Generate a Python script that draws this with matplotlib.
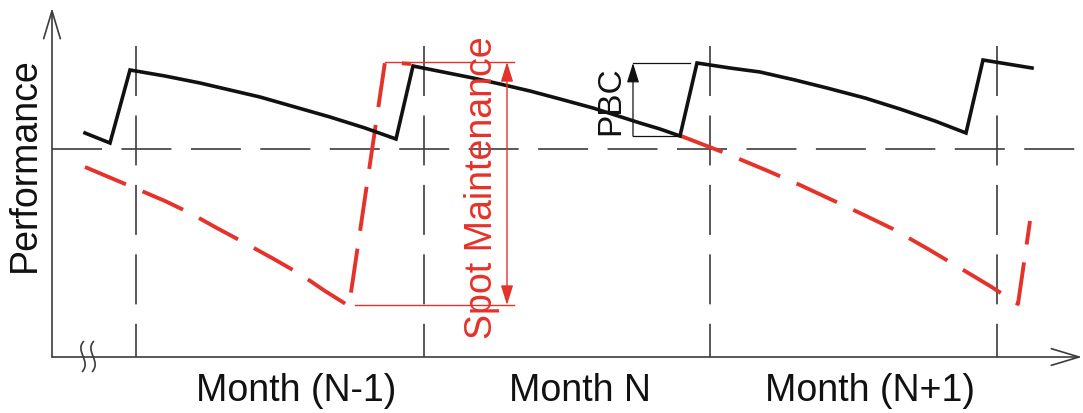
import numpy as np
import matplotlib
matplotlib.use("Agg")
import matplotlib.pyplot as plt
from matplotlib.path import Path
from matplotlib.patches import PathPatch

plt.rcParams['font.family'] = ['Liberation Sans', 'DejaVu Sans']
plt.rcParams['lines.scale_dashes'] = False

# schematic drawn in picture units (x to the right, y downwards)
black_x = [85, 110, 130, 165, 200, 230, 260, 295, 330, 365, 396,
           413, 443, 473, 500, 530, 560, 593, 615, 640, 660, 680,
           697, 730, 760, 795, 827, 865, 900, 935, 966, 983, 1032]
black_y = [134, 144, 71, 77, 84, 91, 98, 108, 118, 129, 140,
           67, 73, 79, 85, 92, 100, 109, 116, 124, 130, 137,
           64, 69, 73, 81, 89, 99, 110, 122, 134, 61, 69]

red_a_x = [85, 111, 137, 165, 190, 215, 243, 272, 300, 325, 349, 385, 411]
red_a_y = [168, 179, 190, 202, 214, 228, 243, 259, 275, 292, 307, 63, 65]
red_b_x = [681, 725, 768, 800, 830, 862, 893, 928, 960, 990, 1018, 1030]
red_b_y = [137, 154, 172, 186, 200, 215, 230, 250, 269, 287, 305, 222]

month_bounds = [136, 424, 710, 997]
threshold_y = 150
month_labels = ["Month (N-1)", "Month N", "Month (N+1)"]
month_label_x = [296, 580, 870]

spot_top, spot_bottom = 63, 306
pbc_top, pbc_bottom = 64, 137

RED = '#e5322a'
BLACK = '#111111'
GREY = '#3c3c3c'

fig = plt.figure(figsize=(10.83, 4.14), dpi=100)
ax = fig.add_axes([0, 0, 1, 1])
ax.set_xlim(0, 1083)
ax.set_ylim(414, 0)
ax.axis('off')

# guide lines
for xb in month_bounds:
    ax.plot([xb, xb], [47, 358], color=GREY, lw=1.2, dashes=(36, 14))
ax.plot([52, 1083], [threshold_y, threshold_y], color=GREY, lw=1.2, dashes=(36, 14))

# axes with open arrows
arrow_kw = dict(arrowstyle='->, head_length=1.0, head_width=0.3',
                color=GREY, lw=1.2, mutation_scale=20, shrinkA=0, shrinkB=0)
ax.annotate('', xy=(52, 9), xytext=(52, 358), arrowprops=arrow_kw)
ax.annotate('', xy=(1082, 358), xytext=(52, 358), arrowprops=arrow_kw)

# axis break
for dx in [0, 10]:
    verts = [(84 + dx, 342), (74 + dx, 352), (92 + dx, 362), (82 + dx, 373)]
    codes = [Path.MOVETO, Path.CURVE4, Path.CURVE4, Path.CURVE4]
    ax.add_patch(PathPatch(Path(verts, codes), fill=False, ec=GREY, lw=1.2))

# performance curves
ax.plot(red_a_x, red_a_y, color=RED, lw=2.8, dashes=(32, 13), solid_joinstyle='miter')
ax.plot(red_b_x, red_b_y, color=RED, lw=2.8, dashes=(32, 13), solid_joinstyle='miter')
ax.plot(black_x, black_y, color=BLACK, lw=2.6, solid_joinstyle='miter')

# spot maintenance dimension
ax.plot([385, 514], [spot_top, spot_top], color=RED, lw=1.0)
ax.plot([355, 514], [spot_bottom, spot_bottom], color=RED, lw=1.0)
ax.annotate('', xy=(507, spot_top), xytext=(507, spot_bottom),
            arrowprops=dict(arrowstyle='<|-|>, head_length=0.8, head_width=0.25',
                            color=RED, lw=1.0, mutation_scale=15, shrinkA=0, shrinkB=0))
ax.text(482, 188, "Spot Maintenance", rotation=90, color=RED, fontsize=27,
        ha='center', va='center')

# PBC dimension
ax.plot([633, 690], [pbc_top, pbc_top], color=BLACK, lw=0.9)
ax.plot([633, 680], [pbc_bottom, pbc_bottom], color=BLACK, lw=0.9)
ax.annotate('', xy=(633, pbc_top), xytext=(633, pbc_bottom),
            arrowprops=dict(arrowstyle='-|>, head_length=0.8, head_width=0.25',
                            color=BLACK, lw=0.9, mutation_scale=15, shrinkA=0, shrinkB=0))
ax.text(611, 101, "PBC", rotation=90, color=BLACK, fontsize=24, ha='center', va='center')

ax.text(25, 165, "Performance", rotation=90, color=BLACK, fontsize=27,
        ha='center', va='center')
for lbl, xl in zip(month_labels, month_label_x):
    ax.text(xl, 401, lbl, color=BLACK, fontsize=27, ha='center', va='baseline')

fig.savefig('out.png', dpi=100)
